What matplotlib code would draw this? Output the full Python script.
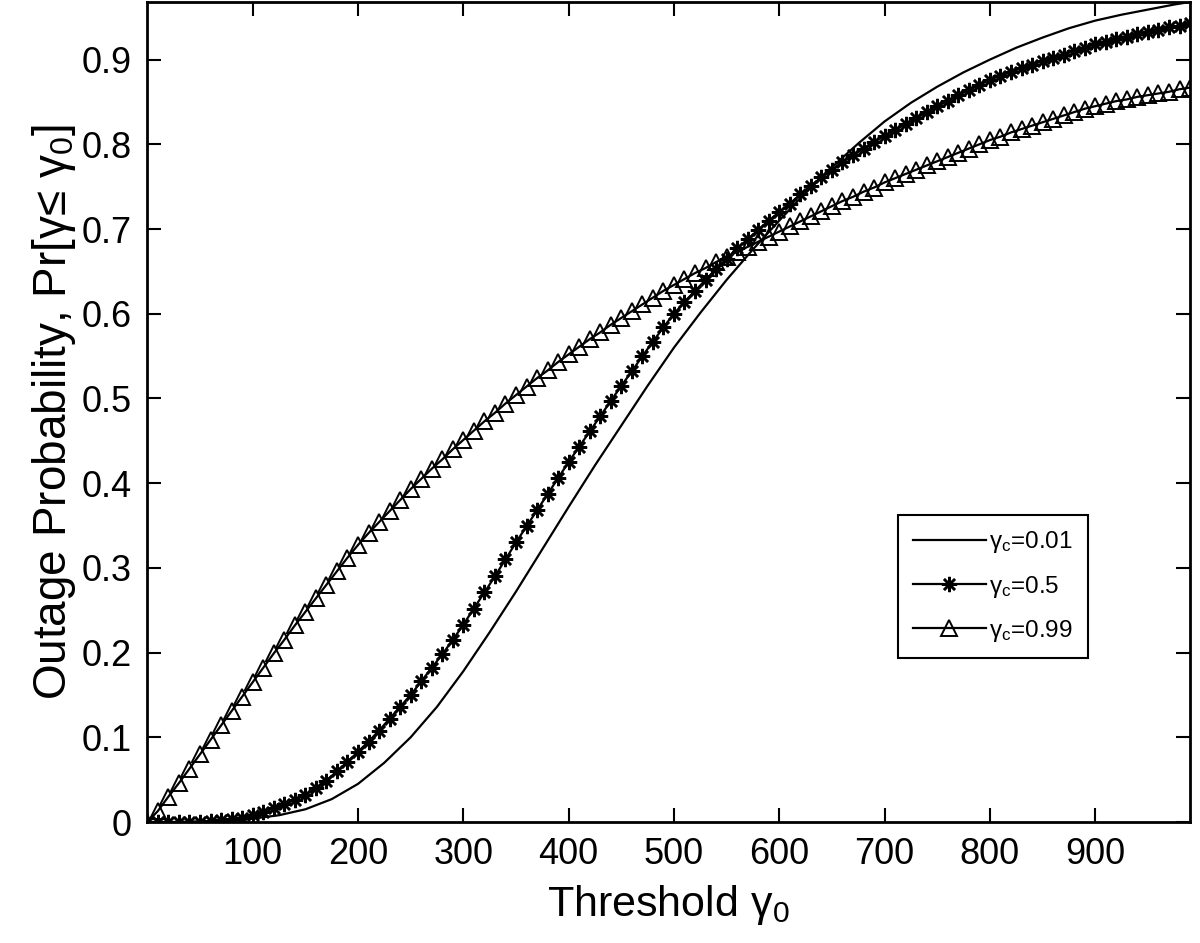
import numpy as np
import matplotlib
matplotlib.use('Agg')
import matplotlib.pyplot as plt

plt.rcParams['font.family'] = ['Liberation Sans', 'DejaVu Sans']
plt.rcParams['mathtext.fontset'] = 'custom'
plt.rcParams['mathtext.rm'] = 'Liberation Sans'
plt.rcParams['mathtext.it'] = 'Liberation Sans'

# gamma_c = 0.01 (solid line, no markers)
x_solid = [0, 25, 50, 75, 100, 125, 150, 175, 200, 225, 250, 275, 300, 325, 350, 375,
           400, 425, 450, 475, 500, 525, 550, 575, 600, 625, 650, 675, 700, 725, 750,
           775, 800, 825, 850, 875, 900, 925, 950, 975, 990]
y_solid = [0, 0, 0.0003, 0.0015, 0.004, 0.008, 0.015, 0.027, 0.045, 0.07, 0.1, 0.136,
           0.178, 0.224, 0.272, 0.322, 0.372, 0.421, 0.468, 0.515, 0.56, 0.601, 0.64,
           0.676, 0.71, 0.743, 0.773, 0.801, 0.827, 0.849, 0.868, 0.885, 0.9, 0.914,
           0.926, 0.937, 0.946, 0.953, 0.959, 0.965, 0.968]

# gamma_c = 0.5 and 0.99, markers every 10
x_mark = list(range(0, 1000, 10))
y_star = [0, 0, 0, 0, 0.0003, 0.0006, 0.001, 0.002, 0.003, 0.005,
          0.008, 0.012, 0.016, 0.021, 0.026, 0.032, 0.040, 0.049, 0.060, 0.071,
          0.083, 0.095, 0.108, 0.122, 0.136, 0.150, 0.166, 0.182, 0.198, 0.215,
          0.233, 0.252, 0.271, 0.290, 0.310, 0.330, 0.349, 0.368, 0.387, 0.406,
          0.425, 0.443, 0.461, 0.479, 0.497, 0.515, 0.532, 0.550, 0.567, 0.584,
          0.600, 0.614, 0.627, 0.640, 0.653, 0.665, 0.677, 0.688, 0.699, 0.710,
          0.720, 0.730, 0.741, 0.751, 0.761, 0.770, 0.779, 0.787, 0.795, 0.803,
          0.810, 0.817, 0.824, 0.831, 0.838, 0.845, 0.851, 0.858, 0.864, 0.870,
          0.876, 0.881, 0.885, 0.890, 0.894, 0.898, 0.902, 0.906, 0.910, 0.914,
          0.918, 0.921, 0.924, 0.927, 0.930, 0.932, 0.935, 0.938, 0.940, 0.943]
y_tri = [0, 0.013, 0.030, 0.046, 0.063, 0.080, 0.097, 0.114, 0.131, 0.148,
         0.165, 0.182, 0.199, 0.215, 0.232, 0.248, 0.264, 0.280, 0.296, 0.312,
         0.327, 0.341, 0.354, 0.367, 0.380, 0.393, 0.405, 0.417, 0.428, 0.440,
         0.451, 0.462, 0.473, 0.483, 0.494, 0.504, 0.514, 0.524, 0.533, 0.543,
         0.552, 0.561, 0.570, 0.578, 0.587, 0.595, 0.603, 0.611, 0.619, 0.627,
         0.634, 0.641, 0.648, 0.654, 0.661, 0.667, 0.673, 0.679, 0.685, 0.691,
         0.697, 0.703, 0.709, 0.715, 0.721, 0.727, 0.733, 0.738, 0.744, 0.749,
         0.755, 0.760, 0.765, 0.770, 0.775, 0.780, 0.785, 0.790, 0.795, 0.800,
         0.805, 0.809, 0.814, 0.818, 0.822, 0.826, 0.830, 0.834, 0.838, 0.842,
         0.845, 0.848, 0.851, 0.853, 0.856, 0.858, 0.860, 0.862, 0.865, 0.867]

labels = ['$\\mathrm{γ_c}$=0.01', '$\\mathrm{γ_c}$=0.5', '$\\mathrm{γ_c}$=0.99']
xticks = [100, 200, 300, 400, 500, 600, 700, 800, 900]
yticks = [0, 0.1, 0.2, 0.3, 0.4, 0.5, 0.6, 0.7, 0.8, 0.9]
yticklabels = ['0', '0.1', '0.2', '0.3', '0.4', '0.5', '0.6', '0.7', '0.8', '0.9']

fig = plt.figure(figsize=(12, 9.43), dpi=100)
ax = fig.add_axes([0.1228, 0.1283, 0.8689, 0.8696])

ax.plot(x_solid, y_solid, color='k', lw=1.6, label=labels[0])
ax.plot(x_mark, y_star, color='k', lw=1.6, marker=(8, 2, 0), ms=11, mew=1.8,
        label=labels[1])
ax.plot(x_mark, y_tri, color='k', lw=1.6, marker='^', ms=12, mfc='none', mew=1.4,
        label=labels[2])

ax.set_xlim(0, 990)
ax.set_ylim(0, 0.968)
ax.set_xticks(xticks)
ax.set_yticks(yticks)
ax.set_yticklabels(yticklabels)
ax.tick_params(direction='in', length=10, width=1.5, top=True, right=True,
               labelsize=26, pad=11)
for s in ax.spines.values():
    s.set_linewidth(2)

ax.set_xlabel('Threshold γ$_0$', fontsize=31, labelpad=8)
ax.set_ylabel('Outage Probability, Pr[γ≤ γ$_0$]', fontsize=33, labelpad=3)

leg = ax.legend(loc='center', bbox_to_anchor=(0.811, 0.287), fontsize=17.5,
                handlelength=3.0, handletextpad=0.15, fancybox=False, framealpha=1,
                edgecolor='k', borderpad=0.6, labelspacing=0.75, borderaxespad=0)
leg.get_frame().set_linewidth(1.5)

fig.savefig('out.png', dpi=100)
